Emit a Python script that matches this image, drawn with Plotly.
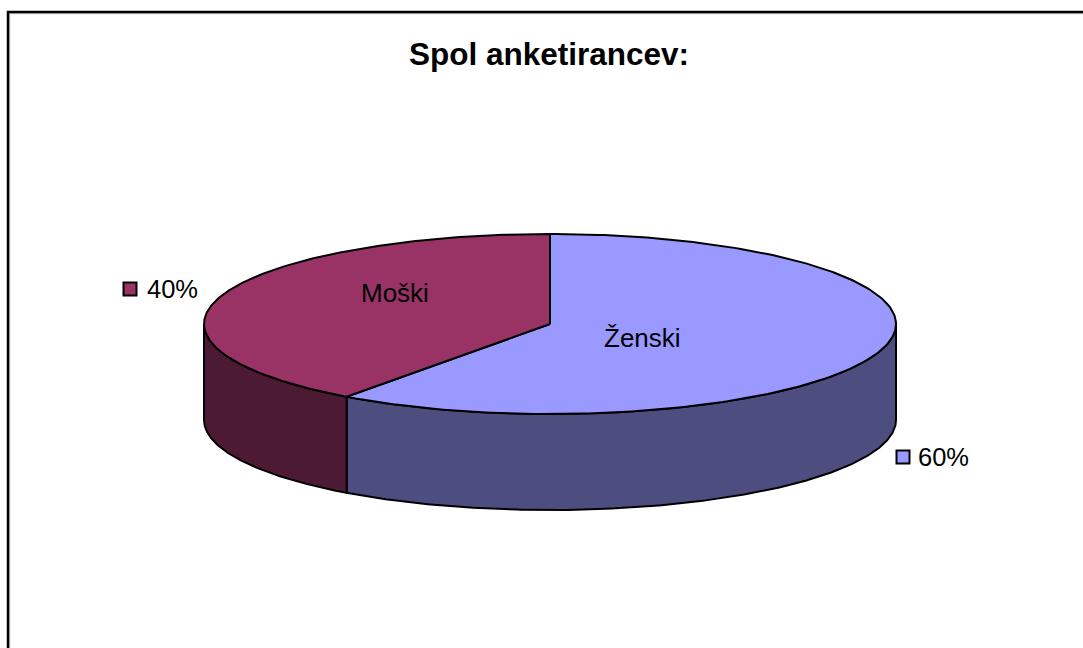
import numpy as np
import plotly.graph_objects as go

categories = ["Ženski", "Moški"]
values = [60, 40]
value_labels = ["60%", "40%"]
top_colors = ["#9999FF", "#993366"]
side_colors = ["#4D4D80", "#4D1A33"]

W, H = 1083, 648
CX, CY, RX, RY, DEPTH = 550, 324, 346, 90, 96


def rim(a0, a1, dy=0, n=240):
    t = np.radians(np.linspace(a0, a1, n))
    return CX + RX * np.sin(t), CY + dy - RY * np.cos(t)


fig = go.Figure()
total = sum(values)
angles = np.concatenate([[0], np.cumsum(values) / total * 360])

LINE = dict(color="#000000", width=2)

# outer walls, drawn only where the rim faces the viewer (90..270 degrees)
for i in range(len(values)):
    a0, a1 = max(angles[i], 90), min(angles[i + 1], 270)
    if a1 > a0:
        x0, y0 = rim(a0, a1)
        x1, y1 = rim(a0, a1, DEPTH)
        fig.add_trace(go.Scatter(
            x=np.concatenate([x0, x1[::-1], x0[:1]]),
            y=np.concatenate([y0, y1[::-1], y0[:1]]),
            mode="lines", fill="toself", fillcolor=side_colors[i],
            line=LINE, hoverinfo="skip", showlegend=False))

# top faces
for i in range(len(values)):
    x0, y0 = rim(angles[i], angles[i + 1])
    fig.add_trace(go.Scatter(
        x=np.concatenate([[CX], x0, [CX]]),
        y=np.concatenate([[CY], y0, [CY]]),
        mode="lines", fill="toself", fillcolor=top_colors[i],
        line=LINE, hoverinfo="skip", showlegend=False))

FONT = "Liberation Sans, Arial, sans-serif"
# category names on the slices
name_pos = [(642, 338), (395, 293)]
for c, (x, y) in zip(categories, name_pos):
    fig.add_annotation(x=x, y=y, text=c, showarrow=False,
                       font=dict(family=FONT, size=26, color="#000000"))

# percent labels with their colour keys
key_pos = [(903, 457), (130, 289)]
text_x = [918, 147]
for v, col, (x, y), tx in zip(value_labels, top_colors, key_pos, text_x):
    fig.add_trace(go.Scatter(
        x=[x], y=[y], mode="markers", hoverinfo="skip", showlegend=False,
        marker=dict(symbol="square", size=13, color=col,
                    line=dict(color="#000000", width=2))))
    fig.add_annotation(x=tx, y=y, text=v, showarrow=False, xanchor="left",
                       xshift=-2, font=dict(family=FONT, size=25.5, color="#000000"))

fig.add_annotation(x=548.5, y=54, text="<b>Spol anketirancev:</b>", showarrow=False,
                   font=dict(family=FONT, size=31.5, color="#000000"))

# chart frame, running off the right and lower edges of the picture
fig.add_shape(type="rect", x0=9.7, y0=13.7, x1=1200, y1=700,
              line=dict(color="#BBBBBB", width=1), layer="below")
fig.add_shape(type="rect", x0=8, y0=12, x1=1200, y1=700,
              line=dict(color="#000000", width=2.5), layer="below")

fig.update_xaxes(range=[0, W], visible=False, fixedrange=True)
fig.update_yaxes(range=[H, 0], visible=False, fixedrange=True)
fig.update_layout(width=W, height=H, margin=dict(l=0, r=0, t=0, b=0),
                  paper_bgcolor="#FFFFFF", plot_bgcolor="#FFFFFF")
fig.write_html("out.html", config={"displayModeBar": False},
               post_script="document.body.style.margin='0';document.body.style.overflow='hidden';")
